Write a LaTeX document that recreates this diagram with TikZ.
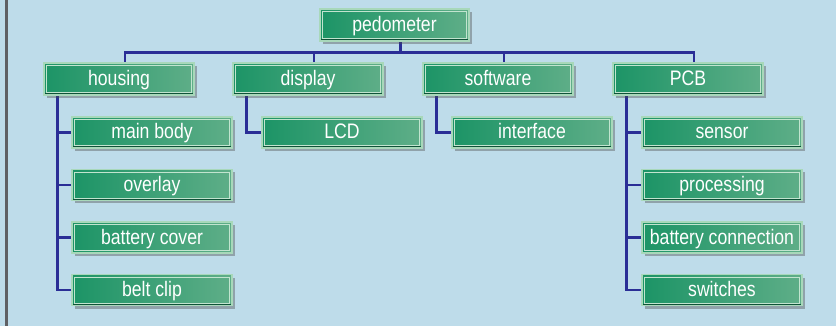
\documentclass[tikz,border=0pt]{standalone}
\usepackage{fontspec}
\setmainfont{Liberation Sans}[FakeStretch=0.84]
\usetikzlibrary{shadows,backgrounds}
\definecolor{bgblue}{HTML}{BEDCEA}
\definecolor{framegray}{HTML}{5F6064}
\definecolor{boxleft}{HTML}{1C9466}
\definecolor{boxright}{HTML}{5FAE88}
\definecolor{boxedge}{HTML}{A8D8BA}
\definecolor{boxdark}{HTML}{0F5238}
\definecolor{linkblue}{HTML}{2A2E96}
\begin{document}
\begin{tikzpicture}[x=1pt, y=-1pt, font=\fontsize{21}{25}\selectfont,
      part/.style={minimum width=160pt, minimum height=31pt, inner sep=0pt, text=white,
        text height=17pt, text depth=4pt,
        left color=boxleft, right color=boxright, draw=boxedge, line width=1.2pt,
        drop shadow={shadow xshift=3pt, shadow yshift=-3pt, opacity=.4, fill=black!70},
        path picture={
          \draw[boxedge!70!white, line width=.8pt] ([shift={(2.5pt,-2.5pt)}]path picture bounding box.north west) rectangle ([shift={(-2.5pt,2.5pt)}]path picture bounding box.south east);
          \draw[boxdark, line width=3pt] (path picture bounding box.south west) -- (path picture bounding box.south east) -- (path picture bounding box.north east);}},
      group/.style={part, minimum width=150pt, minimum height=32pt},
      link/.style={draw=linkblue, line width=2.8pt}]
    \useasboundingbox (0,0) rectangle (836,326);
    \node[part, minimum width=149pt, minimum height=32pt] (ped) at (394.5,25) {pedometer};
    \node[group] (housing) at (119,79) {housing};
    \node[group] (display) at (308,79) {display};
    \node[group] (software) at (498,79) {software};
    \node[group] (pcb) at (688,79) {PCB};
    \node[part] (body) at (152,132.5) {main body};
    \node[part] (overlay) at (152,185) {overlay};
    \node[part] (cover) at (152,237.5) {battery cover};
    \node[part] (clip) at (152,290) {belt clip};
    \node[part] (lcd) at (342,132.5) {LCD};
    \node[part] (iface) at (532,132.5) {interface};
    \node[part] (sensor) at (722,132.5) {sensor};
    \node[part] (proc) at (722,185) {processing};
    \node[part] (conn) at (722,237.5) {battery connection};
    \node[part] (switch) at (722,290) {switches};
    \begin{pgfonlayer}{background}
      \fill[bgblue] (0,0) rectangle (836,326);
      \fill[framegray] (5,0) rectangle (7.5,326);
      \draw[link] ([xshift=6pt]ped.south) -- ++(0,12);
      \draw[link] ([xshift=6pt]housing.north) -- ++(0,-10) -| ([xshift=6pt]pcb.north);
      \draw[link] ([xshift=6pt]display.north) -- ++(0,-10);
      \draw[link] ([xshift=6pt]software.north) -- ++(0,-10);
      \draw[link] ([xshift=14pt]housing.south west) |- (clip.west);
      \draw[link] (body.west) -- ++(-14,0);
      \draw[link] (overlay.west) -- ++(-14,0);
      \draw[link] (cover.west) -- ++(-14,0);
      \draw[link] ([xshift=14pt]display.south west) |- (lcd.west);
      \draw[link] ([xshift=14pt]software.south west) |- (iface.west);
      \draw[link] ([xshift=14pt]pcb.south west) |- (switch.west);
      \draw[link] (sensor.west) -- ++(-14,0);
      \draw[link] (proc.west) -- ++(-14,0);
      \draw[link] (conn.west) -- ++(-14,0);
    \end{pgfonlayer}
  \end{tikzpicture}
\end{document}
